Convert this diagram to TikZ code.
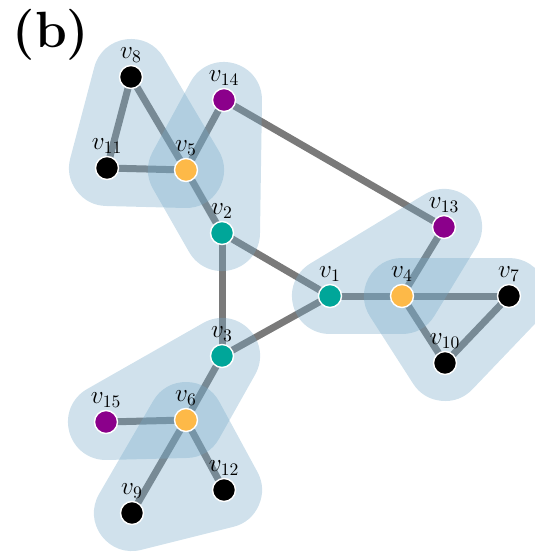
\documentclass[tikz,border=0pt]{standalone}
\definecolor{vteal}{RGB}{0,166,153}
\definecolor{vorange}{RGB}{253,185,72}
\definecolor{vpurple}{RGB}{139,0,139}
\definecolor{linkgray}{RGB}{122,122,122}
\definecolor{hullblue}{RGB}{119,170,201}
\pgfdeclarelayer{edges}
\pgfdeclarelayer{hulls}
\pgfsetlayers{edges,hulls,main}
\begin{document}
\begin{tikzpicture}[x=0.02cm,y=-0.02cm,
		vtx/.style={circle,draw=white,line width=0.8pt,fill=#1,minimum size=0.46cm,inner sep=0pt},
		link/.style={draw=linkgray,line width=0.14cm},
		hull/.style={draw=hullblue,draw opacity=0.35,line width=1.52cm,line join=round,line cap=round},
		every label/.style={font=\fontsize{14}{16}\selectfont,inner sep=1pt},
		label distance=0pt]
			\useasboundingbox (0,0) rectangle (535,552);
			\node (tag) at (51,35) {\fontsize{29}{31}\selectfont\textbf{(b)}};

			% vertices
			\node[vtx=vteal]   (v1)  at (330,296) [label=above:$v_{1}$]  {};
			\node[vtx=vteal]   (v2)  at (222,233) [label=above:$v_{2}$]  {};
			\node[vtx=vteal]   (v3)  at (222,356) [label=above:$v_{3}$]  {};
			\node[vtx=vorange] (v4)  at (402,296) [label=above:$v_{4}$]  {};
			\node[vtx=vorange] (v5)  at (186,170) [label=above:$v_{5}$]  {};
			\node[vtx=vorange] (v6)  at (186,420) [label=above:$v_{6}$]  {};
			\node[vtx=black]   (v7)  at (509,296) [label=above:$v_{7}$]  {};
			\node[vtx=black]   (v8)  at (131,77)  [label=above:$v_{8}$]  {};
			\node[vtx=black]   (v9)  at (132,513) [label=above:$v_{9}$]  {};
			\node[vtx=black]   (v10) at (445,363) [label=above:$v_{10}$] {};
			\node[vtx=black]   (v11) at (107,168) [label=above:$v_{11}$] {};
			\node[vtx=black]   (v12) at (224,490) [label=above:$v_{12}$] {};
			\node[vtx=vpurple] (v13) at (444,227) [label=above:$v_{13}$] {};
			\node[vtx=vpurple] (v14) at (224,100) [label=above:$v_{14}$] {};
			\node[vtx=vpurple] (v15) at (106,422) [label=above:$v_{15}$] {};

			% edges
			\begin{pgfonlayer}{edges}
				\foreach \a/\b in {v8/v11,v8/v5,v11/v5,v5/v14,v5/v2,v14/v13,v2/v1,v2/v3,
					v1/v4,v1/v3,v4/v13,v4/v7,v4/v10,v7/v10,v3/v6,v6/v15,v6/v9,v6/v12}
					\draw[link] (\a.center) -- (\b.center);
			\end{pgfonlayer}

			% hyperedges
			\begin{pgfonlayer}{hulls}
				\foreach \a/\b/\c in {v8/v11/v5,v14/v5/v2,v1/v4/v13,v4/v7/v10,v3/v6/v15,v6/v9/v12}
					\path[hull] (\a.center) -- (\b.center) -- (\c.center) -- cycle;
			\end{pgfonlayer}
		\end{tikzpicture}
\end{document}
